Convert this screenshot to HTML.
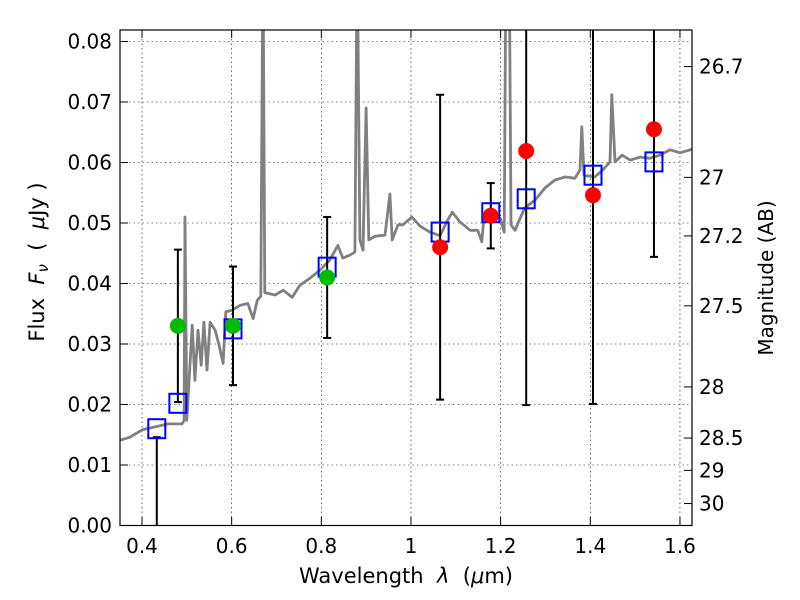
<!DOCTYPE html>
<html><head><meta charset="utf-8"><style>
body{margin:0;background:#fff;}
svg{display:block;font-family:"DejaVu Sans","Liberation Sans",sans-serif;}
</style></head><body>
<svg id="chart" width="800" height="600" viewBox="0 0 800 600">
<g id="grid"></g>
<defs><clipPath id="clip"><rect x="120" y="30" width="572" height="495.5"/></clipPath></defs>
<g id="plot" clip-path="url(#clip)"></g>
<rect x="120" y="30" width="572" height="495.5" fill="none" stroke="#000" stroke-width="1.2"/>
<g id="axes"></g>
<text x="406" y="583" font-size="21" text-anchor="middle" xml:space="preserve">Wavelength  <tspan font-style="italic">λ</tspan>  (<tspan font-style="italic">μ</tspan>m)</text>
<text transform="translate(44,262) rotate(-90)" font-size="21" text-anchor="middle" xml:space="preserve">Flux  <tspan font-style="italic">F</tspan><tspan font-style="italic" font-size="15" dy="4">ν</tspan><tspan dy="-4">  (  </tspan><tspan font-style="italic">μ</tspan>Jy )</text>
<text transform="translate(773,278) rotate(-90)" font-size="20" text-anchor="middle">Magnitude (AB)</text>
</svg>
<script>
const specLam=[0.351,0.373,0.400,0.429,0.458,0.489,0.494,0.496,0.500,0.505,0.512,0.518,0.525,0.532,0.538,0.545,0.552,0.563,0.572,0.581,0.587,0.601,0.619,0.636,0.648,0.657,0.665,0.670,0.674,0.697,0.715,0.735,0.752,0.775,0.797,0.819,0.837,0.848,0.864,0.875,0.880,0.886,0.893,0.900,0.906,0.920,0.942,0.953,0.958,0.971,0.982,1.002,1.020,1.042,1.065,1.080,1.092,1.109,1.132,1.149,1.158,1.163,1.176,1.199,1.208,1.212,1.219,1.223,1.232,1.239,1.254,1.277,1.299,1.321,1.344,1.366,1.377,1.381,1.386,1.410,1.428,1.444,1.448,1.455,1.471,1.489,1.511,1.533,1.555,1.578,1.600,1.627];
const specFlux=[0.0141,0.0146,0.0158,0.0163,0.0168,0.0168,0.0173,0.0510,0.0174,0.0240,0.0331,0.0240,0.0323,0.0265,0.0336,0.0257,0.0336,0.0323,0.0298,0.0268,0.0353,0.0356,0.0364,0.0367,0.0342,0.0372,0.0379,0.095,0.0385,0.0381,0.0389,0.0377,0.0397,0.0409,0.0422,0.0439,0.0463,0.0442,0.0447,0.0452,0.095,0.0472,0.0455,0.0690,0.0472,0.0478,0.0480,0.0548,0.0472,0.0497,0.0497,0.0510,0.0495,0.0485,0.0479,0.0502,0.0518,0.0502,0.0488,0.0488,0.0469,0.0513,0.0512,0.0508,0.0485,0.095,0.095,0.0497,0.0488,0.0500,0.0525,0.0538,0.0558,0.0571,0.0576,0.0574,0.0588,0.0659,0.0579,0.0576,0.0588,0.0601,0.0712,0.0601,0.0612,0.0604,0.0609,0.0607,0.0612,0.0621,0.0616,0.0622];
const bandLam=[0.433,0.480,0.603,0.813,1.065,1.178,1.257,1.406,1.542];
const modelFlux=[0.0160,0.0202,0.0325,0.0427,0.0485,0.0517,0.0540,0.0579,0.0601];
const obsFlux=[-0.0012,0.033,0.033,0.041,0.046,0.0512,0.0619,0.0546,0.0655];
const obsErr=[0.0158,0.0126,0.0098,0.010,0.0252,0.0054,0.042,0.0345,0.0211];
const obsColor=['#00bb00','#00bb00','#00bb00','#00bb00','red','red','red','red','red'];
const xTicks=[0.4,0.6,0.8,1.0,1.2,1.4,1.6];
const xTickLabels=['0.4','0.6','0.8','1','1.2','1.4','1.6'];
const yTicks=[0,0.01,0.02,0.03,0.04,0.05,0.06,0.07,0.08];
const magTicks=[26.7,27,27.2,27.5,28,28.5,29,30];

const X=l=>142+(l-0.4)*448.3;
const Y=f=>525.5-f*6050;
const NS='http://www.w3.org/2000/svg';
function mk(parent,tag,attrs){const e=document.createElementNS(NS,tag);for(const k in attrs)e.setAttribute(k,attrs[k]);parent.appendChild(e);return e;}
const grid=document.getElementById('grid'),plot=document.getElementById('plot'),axes=document.getElementById('axes');

xTicks.forEach((t,i)=>{
  const l=mk(grid,'line',{x1:X(t),x2:X(t),y1:30,y2:525.5,stroke:'#000','stroke-width':0.6,'stroke-dasharray':'1.5,3'});
  
  
  mk(axes,'line',{x1:X(t),x2:X(t),y1:525.5,y2:517,stroke:'#000'});
  mk(axes,'line',{x1:X(t),x2:X(t),y1:30,y2:38,stroke:'#000'});
  const tx=mk(axes,'text',{x:X(t),y:553,'font-size':20,'text-anchor':'middle'});
  tx.textContent=xTickLabels[i];
  
  
});
yTicks.forEach(t=>{
  const l=mk(grid,'line',{x1:120,x2:692,y1:Y(t),y2:Y(t),stroke:'#000','stroke-width':0.6,'stroke-dasharray':'1.5,3'});
  
  
  mk(axes,'line',{x1:120,x2:128,y1:Y(t),y2:Y(t),stroke:'#000'});
  const tx=mk(axes,'text',{x:112,y:Y(t)+7,'font-size':20,'text-anchor':'end'});
  tx.textContent=t.toFixed(2);
  
  
});
magTicks.forEach(m=>{
  const y=Y(Math.pow(10,(23.9-m)/2.5));
  mk(axes,'line',{x1:684,x2:692,y1:y,y2:y,stroke:'#000'});
  const tx=mk(axes,'text',{x:699,y:y+7,'font-size':20});
  tx.textContent=String(m);
  
  
});

const pts=specLam.map((l,i)=>X(l).toFixed(1)+','+Y(specFlux[i]).toFixed(1)).join(' ');
const sp=mk(plot,'polyline',{points:pts,fill:'none',stroke:'#808080','stroke-width':2.8,'stroke-linejoin':'round'});



bandLam.forEach((l,i)=>{
  const x=X(l),y=Y(obsFlux[i]);
  const lo=obsFlux[i]-obsErr[i],hi=obsFlux[i]+obsErr[i];
  const g=mk(plot,'g',{});
  
  
  mk(g,'line',{x1:x,x2:x,y1:Y(lo),y2:Y(hi),stroke:'#000','stroke-width':2});
  mk(g,'line',{x1:x-4,x2:x+4,y1:Y(lo),y2:Y(lo),stroke:'#000','stroke-width':2});
  mk(g,'line',{x1:x-4,x2:x+4,y1:Y(hi),y2:Y(hi),stroke:'#000','stroke-width':2});
});
bandLam.forEach((l,i)=>{
  const s=mk(plot,'rect',{x:X(l)-8.5,y:Y(modelFlux[i])-9.5,width:17,height:19,fill:'none',stroke:'#0000ff','stroke-width':2});
  
  
});
bandLam.forEach((l,i)=>{
  const c=mk(plot,'circle',{cx:X(l),cy:Y(obsFlux[i]),r:8,fill:obsColor[i]});
  
  
});
</script>
</body></html>
